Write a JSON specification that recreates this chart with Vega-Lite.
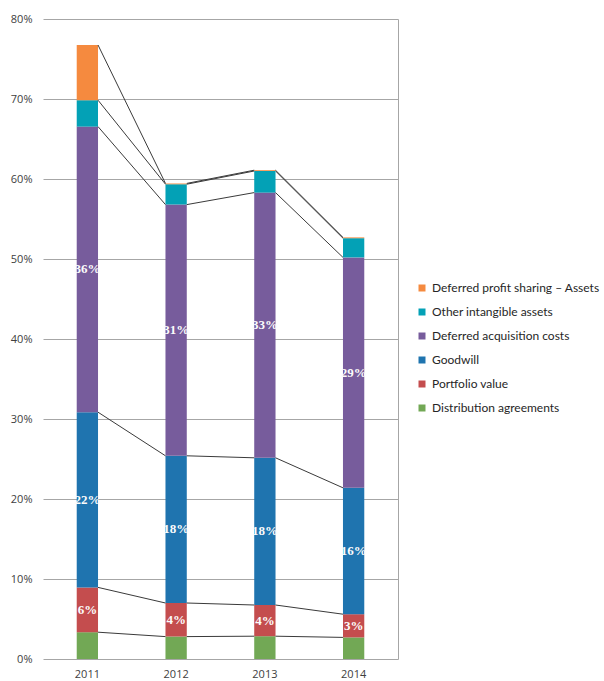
{
  "$schema": "https://vega.github.io/schema/vega-lite/v6.json",
  "width": 355,
  "height": 640,
  "autosize": {"type": "none"},
  "padding": {"left": 43, "top": 19, "right": 206, "bottom": 22},
  "background": "white",
  "config": {"view": {"stroke": null}, "font": "Open Sans"},
  "data": {
    "values": [
      {"year": "2011", "series": "Distribution agreements", "rank": 1, "value": 3.35},
      {"year": "2011", "series": "Portfolio value", "rank": 2, "value": 5.6},
      {"year": "2011", "series": "Goodwill", "rank": 3, "value": 21.9},
      {"year": "2011", "series": "Deferred acquisition costs", "rank": 4, "value": 35.7},
      {"year": "2011", "series": "Other intangible assets", "rank": 5, "value": 3.3},
      {"year": "2011", "series": "Deferred profit sharing – Assets", "rank": 6, "value": 6.9},
      {"year": "2012", "series": "Distribution agreements", "rank": 1, "value": 2.8},
      {"year": "2012", "series": "Portfolio value", "rank": 2, "value": 4.2},
      {"year": "2012", "series": "Goodwill", "rank": 3, "value": 18.4},
      {"year": "2012", "series": "Deferred acquisition costs", "rank": 4, "value": 31.4},
      {"year": "2012", "series": "Other intangible assets", "rank": 5, "value": 2.55},
      {"year": "2012", "series": "Deferred profit sharing – Assets", "rank": 6, "value": 0.1},
      {"year": "2013", "series": "Distribution agreements", "rank": 1, "value": 2.85},
      {"year": "2013", "series": "Portfolio value", "rank": 2, "value": 3.9},
      {"year": "2013", "series": "Goodwill", "rank": 3, "value": 18.4},
      {"year": "2013", "series": "Deferred acquisition costs", "rank": 4, "value": 33.15},
      {"year": "2013", "series": "Other intangible assets", "rank": 5, "value": 2.7},
      {"year": "2013", "series": "Deferred profit sharing – Assets", "rank": 6, "value": 0.1},
      {"year": "2014", "series": "Distribution agreements", "rank": 1, "value": 2.7},
      {"year": "2014", "series": "Portfolio value", "rank": 2, "value": 2.9},
      {"year": "2014", "series": "Goodwill", "rank": 3, "value": 15.8},
      {"year": "2014", "series": "Deferred acquisition costs", "rank": 4, "value": 28.8},
      {"year": "2014", "series": "Other intangible assets", "rank": 5, "value": 2.4},
      {"year": "2014", "series": "Deferred profit sharing – Assets", "rank": 6, "value": 0.1}
    ]
  },
  "transform": [
    {"stack": "value", "groupby": ["year"], "sort": [{"field": "rank", "order": "ascending"}], "as": ["y0", "y1"]}
  ],
  "layer": [
    {
      "mark": {"type": "bar"},
      "encoding": {
        "x": {
          "field": "year", "type": "nominal",
          "scale": {"paddingInner": 0.76, "paddingOuter": 0.38},
          "axis": {"title": null, "domain": false, "ticks": false, "grid": false, "labelAngle": 0, "labelPadding": 9, "labelFontSize": 11, "labelColor": "#404040", "labelFont": "Open Sans"}
        },
        "y": {
          "field": "y1", "type": "quantitative",
          "scale": {"domain": [0, 80], "nice": false},
          "axis": {"title": null, "values": [0, 10, 20, 30, 40, 50, 60, 70, 80], "labelExpr": "datum.value + '%'", "domain": false, "ticks": false, "labelPadding": 11, "labelFontSize": 11, "labelColor": "#404040", "labelFont": "Open Sans", "grid": true, "gridColor": "#a6a6a6", "gridWidth": 1}
        },
        "y2": {"field": "y0"},
        "color": {
          "field": "series", "type": "nominal",
          "scale": {
            "domain": ["Deferred profit sharing – Assets", "Other intangible assets", "Deferred acquisition costs", "Goodwill", "Portfolio value", "Distribution agreements"],
            "range": ["#F58A3F", "#03A1B6", "#775C9C", "#1F74AF", "#C44D4E", "#72A855"]
          },
          "legend": {"title": null, "orient": "none", "legendX": 373, "legendY": 263, "padding": 0, "symbolType": "square", "symbolSize": 49, "symbolStrokeWidth": 0, "labelFont": "Lato", "labelFontSize": 12, "labelColor": "#262626", "labelOffset": 4, "rowPadding": 12, "labelLimit": 300}
        }
      }
    },
    {
      "transform": [
        {"window": [{"op": "lead", "field": "y1", "as": "nextTop"}, {"op": "lead", "field": "year", "as": "nextYear"}], "groupby": ["series"], "sort": [{"field": "year", "order": "ascending"}]},
        {"filter": "datum.nextYear != null"}
      ],
      "mark": {"type": "rule", "color": "#3a3a3a", "strokeWidth": 1},
      "encoding": {
        "x": {
          "field": "year", "type": "nominal", "bandPosition": 1,
          "scale": {"paddingInner": 0.76, "paddingOuter": 0.38},
          "axis": {"title": null, "domain": false, "ticks": false, "grid": false, "labelAngle": 0, "labelPadding": 9, "labelFontSize": 11, "labelColor": "#404040", "labelFont": "Open Sans"}
        },
        "x2": {"field": "nextYear", "bandPosition": 0},
        "y": {
          "field": "y1", "type": "quantitative",
          "scale": {"domain": [0, 80], "nice": false},
          "axis": {"orient": "right", "title": null, "labels": false, "ticks": false, "grid": false, "domain": true, "domainColor": "#a6a6a6", "domainWidth": 1}
        },
        "y2": {"field": "nextTop"}
      }
    },
    {
      "transform": [
        {"filter": {"field": "rank", "oneOf": [2, 3, 4]}},
        {"calculate": "(datum.y0 + datum.y1) / 2", "as": "mid"},
        {"calculate": "format(datum.value, '.0f') + '%'", "as": "label"}
      ],
      "mark": {"type": "text", "font": "Liberation Serif", "fontWeight": "bold", "fontSize": 13, "color": "#fbfbfb", "align": "center", "baseline": "middle"},
      "encoding": {
        "x": {
          "field": "year", "type": "nominal",
          "scale": {"paddingInner": 0.76, "paddingOuter": 0.38},
          "axis": {"title": null, "domain": false, "ticks": false, "grid": false, "labelAngle": 0, "labelPadding": 9, "labelFontSize": 11, "labelColor": "#404040", "labelFont": "Open Sans"}
        },
        "y": {"field": "mid", "type": "quantitative", "scale": {"domain": [0, 80], "nice": false}, "axis": null},
        "text": {"field": "label"}
      }
    }
  ],
  "resolve": {"axis": {"y": "independent"}}
}
